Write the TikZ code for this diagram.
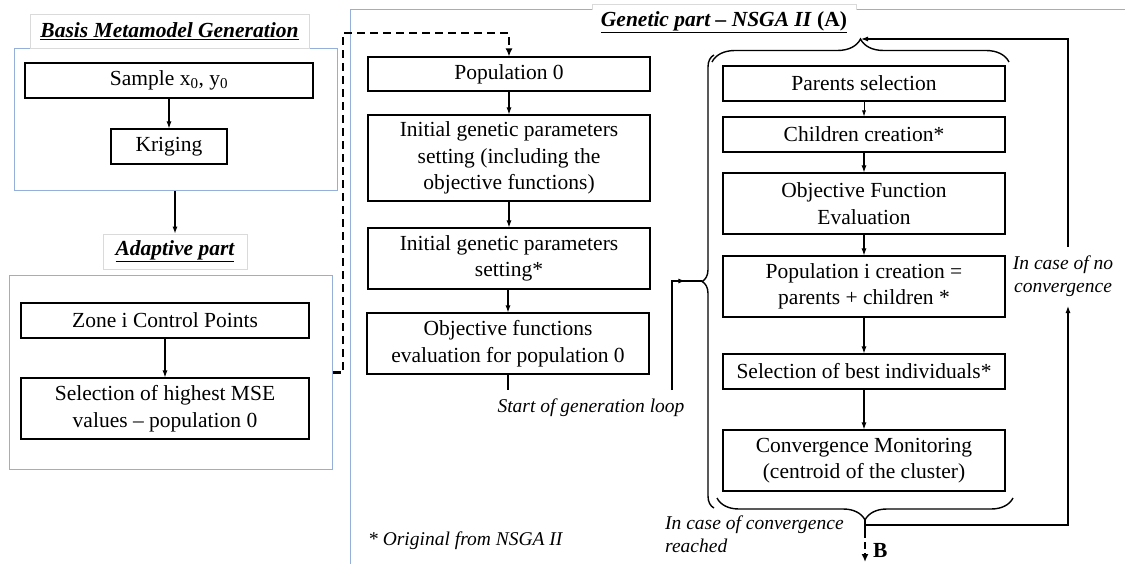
\documentclass[tikz,border=0pt]{standalone}
\usepackage{fontspec}
\setmainfont{Liberation Serif}
\usetikzlibrary{arrows.meta,decorations.pathreplacing,decorations.markings}

\definecolor{frameblue}{RGB}{150,175,218}
\definecolor{titlegrey}{RGB}{218,218,218}
\newcommand\boxfont{\fontsize{21.5}{26.5}\selectfont}
\newcommand\lblfont{\fontsize{19.5}{23}\selectfont\itshape}
\newcommand\hdfont{\fontsize{21.5}{26}\selectfont\bfseries\itshape}

\begin{document}
\begin{tikzpicture}[x=1pt,y=-1pt,
  box/.style={draw, line width=1.1pt, align=center, inner sep=0pt, font=\boxfont},
  frame/.style={draw=frameblue, line width=1pt, inner sep=0pt},
  ttl/.style={draw=titlegrey, fill=white, line width=0.8pt, inner sep=0pt, font=\hdfont},
  conn/.style={line width=1.1pt, -{Latex[length=7pt,width=5pt]}},
  plain/.style={line width=1.1pt},
  dashconn/.style={line width=2.8pt, dash pattern=on 8pt off 5pt, -{Latex[length=8pt,width=7pt]}},
  lbl/.style={font=\lblfont, inner sep=0pt},
  brc/.style={decorate, decoration={brace, amplitude=#1}, line width=1.4pt}]
\useasboundingbox (0,0) rectangle (1125,564);

% ---------- Basis metamodel generation ----------
\node[frame, minimum width=323pt, minimum height=142pt] (basisframe) at (175.5,120) {};
\node[ttl, minimum width=279pt, minimum height=34pt] (basistitle) at (169.5,31)
  {\underline{Basis Metamodel Generation}};
\node[box, minimum width=288pt, minimum height=35pt] (sample) at (169,80.5)
  {Sample x\textsubscript{0}, y\textsubscript{0}};
\node[box, minimum width=116pt, minimum height=35pt] (krig) at (169,146.5) {Kriging};
\draw[conn] (sample) -- (krig);

% ---------- Adaptive part ----------
\node[ttl, minimum width=144pt, minimum height=35pt] (adapttitle) at (175,251.5)
  {\underline{Adaptive part}};
\node[frame, minimum width=323pt, minimum height=193pt] (adaptframe) at (170.5,372.5) {};
\node[box, minimum width=288pt, minimum height=35pt] (zone) at (165,320.5) {Zone i Control Points};
\node[box, minimum width=288pt, minimum height=61pt] (msel) at (165,408.5)
  {Selection of highest MSE\\values -- population 0};
\draw[conn] (basisframe.south -| adapttitle.north) -- (adapttitle.north);
\draw[conn] (zone) -- (msel);

% ---------- Genetic part frame ----------
\coordinate (gfBottom) at (350,564);
\coordinate (gfCorner) at (350,10);
\coordinate (gfTopL) at (592,10);
\coordinate (gfTopR) at (856,10);
\coordinate (gfEnd) at (1125,10);
\draw[frameblue, line width=1pt] (gfBottom) -- (gfCorner) -- (gfTopL);
\draw[frameblue, line width=1pt] (gfTopR) -- (gfEnd);
\node[font=\hdfont, inner sep=0pt, fill=white, minimum width=264pt, minimum height=34pt] (gentitle) at (724,22)
  {\underline{Genetic part -- NSGA II \textup{(A)}}};
\draw[titlegrey, line width=0.8pt] (gfTopL) -- (592,4) -- (856,4) -- (gfTopR);

% ---------- initial column ----------
\node[box, minimum width=282pt, minimum height=34pt] (pop0) at (509,74) {Population 0};
\node[box, minimum width=282pt, minimum height=86pt] (init1) at (509,158)
  {Initial genetic parameters\\setting (including the\\objective functions)};
\node[box, minimum width=282pt, minimum height=61pt] (init2) at (509,258.5)
  {Initial genetic parameters\\setting*};
\node[box, minimum width=282pt, minimum height=61pt] (objev) at (508,343.5)
  {Objective functions\\evaluation for population 0};
\draw[conn] (pop0) -- (init1);
\draw[conn] (init1) -- (init2);
\draw[conn] (init2.south -| objev.north) -- (objev.north);
\coordinate (objtail) at (508,390);
\draw[plain] (objev.south) -- (objtail);

% dashed link from the adaptive part to population 0
\coordinate (dashUp) at (343,33);
\draw[dashconn] (adaptframe.east) -| (dashUp) -| (pop0.north);

% ---------- generation loop ----------
\node[box, minimum width=282pt, minimum height=35pt] (parents) at (864,83.5) {Parents selection};
\node[box, minimum width=282pt, minimum height=35pt] (child) at (864,134.5) {Children creation*};
\node[box, minimum width=282pt, minimum height=61pt] (ofe) at (864,203.5) {Objective Function\\Evaluation};
\node[box, minimum width=282pt, minimum height=61pt] (popi) at (864,286.5)
  {Population i creation =\\parents + children *};
\node[box, minimum width=282pt, minimum height=35pt] (best) at (864,371.5) {Selection of best individuals*};
\node[box, minimum width=282pt, minimum height=61pt] (conv) at (864,460.5)
  {Convergence Monitoring\\(centroid of the cluster)};
\draw[line width=0.7pt, -{Latex[length=6pt,width=4pt]}] (parents) -- (child);
\draw[conn] (child) -- (ofe);
\draw[conn] (ofe) -- (popi);
\draw[conn] (popi) -- (best);
\draw[conn] (best) -- (conv);

% brackets grouping the loop
\draw[brc=23] (712,62) -- (1009,62);
\draw[brc=12] (714,508) -- (714,55);
\draw[brc=22] (1013,498) -- (717,498);
\coordinate (tbTip) at (861,39);
\coordinate (lbTip) at (702,281);
\coordinate (bbTip) at (865,520);

% entry into the loop
\coordinate (loopfoot) at (672,390);
\draw[plain, postaction={decorate}, decoration={markings,
  mark=at position 0.88 with {\arrow{Latex[length=7pt,width=5pt]}}}] (loopfoot) |- (lbTip);
\node[lbl] (startlbl) at (591,408) {Start of generation loop};

% exits of the loop
\coordinate (bbJoin) at (865,525);
\coordinate (bbEnd) at (865,531);
\coordinate (outB) at (865,562);
\coordinate (nocLow) at (1068,306);
\coordinate (nocHigh) at (1068,247);
\draw[plain] (bbTip) -- (bbEnd);
\draw[conn] (bbJoin) -| (nocLow);
\draw[conn] (nocHigh) |- (tbTip);
\draw[line width=2.4pt, dash pattern=on 7pt off 4pt, -{Latex[length=8pt,width=7pt]}] (bbEnd) -- (outB);
\node[font=\boxfont\bfseries, anchor=west, inner sep=0pt] (lblB) at (873,550) {B};

\node[lbl, align=center] (nolbl) at (1063,276.5) {In case of no\\convergence};
\node[lbl, align=left, anchor=west] (convlbl) at (665,534.5) {In case of convergence\\reached};
\node[lbl, anchor=west] (note) at (368,541) {* Original from NSGA II};
\end{tikzpicture}
\end{document}
